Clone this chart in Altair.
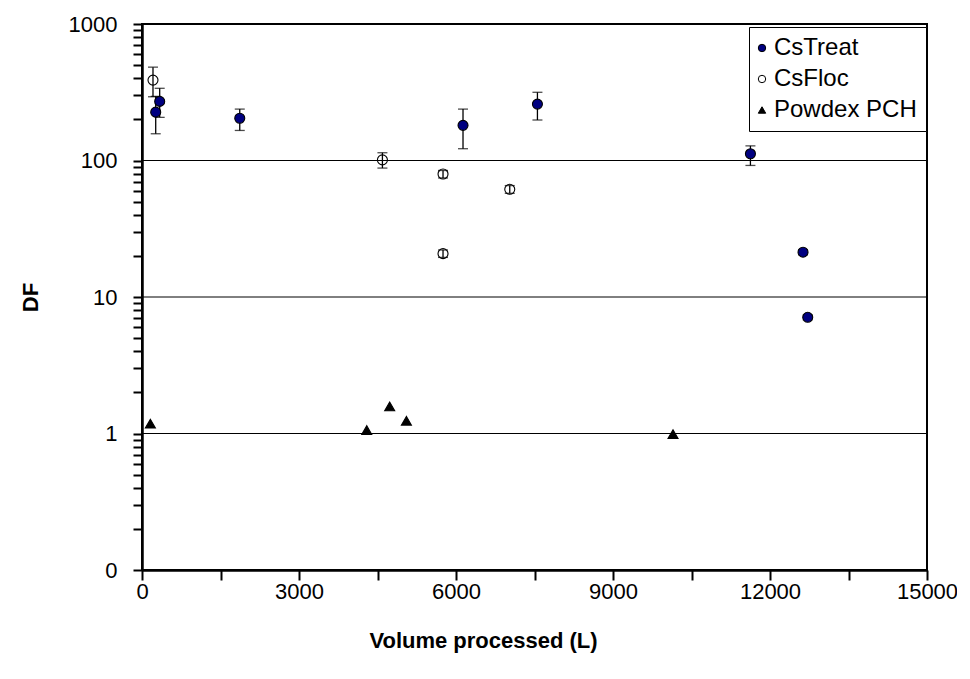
import altair as alt
import pandas as pd

# ---- data ----
treat_vol = [262, 338, 1868, 6134, 7556, 11626, 12631, 12721]
treat_df = [226, 271, 204, 181, 259, 112, 21.3, 7.1]
treat_lo = [157, 207, 166, 122, 198, 92, 20.4, 6.8]
treat_hi = [295, 338, 238, 238, 316, 128, 22.2, 7.4]

floc_vol = [210, 4594, 5752, 5752, 7027]
floc_df = [388, 101, 79.6, 20.8, 61.5]
floc_lo = [293, 88, 74.5, 19.5, 57.5]
floc_hi = [483, 114, 84.5, 22.1, 65.5]

pch_vol = [160, 4294, 4733, 5052, 10147]
pch_df = [1.18, 1.06, 1.58, 1.24, 0.99]

series_names = ["CsTreat", "CsFloc", "Powdex PCH"]
series_fill = ["#000080", "transparent", "#000000"]
series_shape = ["circle", "circle", "triangle-up"]

x_ticks = list(range(0, 15001, 1500))
y_major = [0.1, 1, 10, 100, 1000]
y_minor = [d * k for d in [0.1, 1, 10, 100] for k in range(2, 10)]
y_grid = [1, 10, 100]

# ---- tables ----
pts = pd.concat(
    [
        pd.DataFrame({"series": ["CsTreat"] * len(treat_vol), "vol": treat_vol, "df": treat_df}),
        pd.DataFrame({"series": ["CsFloc"] * len(floc_vol), "vol": floc_vol, "df": floc_df}),
        pd.DataFrame({"series": ["Powdex PCH"] * len(pch_vol), "vol": pch_vol, "df": pch_df}),
    ],
    ignore_index=True,
)
err = pd.concat(
    [
        pd.DataFrame({"series": "CsTreat", "vol": treat_vol, "lo": treat_lo, "hi": treat_hi}),
        pd.DataFrame({"series": "CsFloc", "vol": floc_vol, "lo": floc_lo, "hi": floc_hi}),
    ],
    ignore_index=True,
)
grid_df = pd.DataFrame({"g": y_grid})

FONT = "Liberation Sans"

xscale = alt.Scale(domain=[0, 15000], nice=False, zero=False)
yscale = alt.Scale(type="log", domain=[0.1, 1000], nice=False)

xaxis = alt.Axis(
    values=x_ticks,
    labelExpr="datum.value % 3000 == 0 ? '' + datum.value : ''",
    labelFlush=False,
    labelOverlap=False,
    labelFont=FONT,
    labelFontSize=22,
    labelColor="black",
    labelPadding=1,
    ticks=True,
    tickSize=10,
    tickWidth=2,
    tickColor="black",
    domainColor="black",
    domainWidth=2.5,
    grid=False,
    title="Volume processed (L)",
    titleFont=FONT,
    titleFontSize=22,
    titleFontWeight="bold",
    titleColor="black",
    titleX=341,
    titleY=70,
    titleAlign="center",
    titleBaseline="middle",
)

yaxis = alt.Axis(
    values=y_major + y_minor,
    labelExpr="datum.value == 0.1 ? '0' : ((datum.value == 1 || datum.value == 10 || datum.value == 100 || datum.value == 1000) ? format(datum.value, 'd') : '')",
    labelFlush=False,
    labelOverlap=False,
    labelFont=FONT,
    labelFontSize=22,
    labelColor="black",
    labelPadding=16,
    ticks=True,
    tickSize=9,
    tickWidth=2,
    tickColor="black",
    domainColor="black",
    domainWidth=2.5,
    grid=False,
    title="DF",
    titleFont=FONT,
    titleFontSize=22,
    titleFontWeight="bold",
    titleColor="black",
    titleX=-112,
    titleY=273,
    titleAngle=270,
    titleAlign="center",
    titleBaseline="middle",
)

gridlines = alt.Chart(grid_df).mark_rule(color="black", strokeWidth=1).encode(
    y=alt.Y("g:Q", scale=yscale, axis=yaxis),
)

rules = alt.Chart(err).mark_rule(color="black", strokeWidth=1.3).encode(
    x=alt.X("vol:Q", scale=xscale, axis=xaxis),
    y=alt.Y("lo:Q", scale=yscale, axis=yaxis),
    y2="hi:Q",
)

caps = (
    alt.Chart(err)
    .transform_fold(["lo", "hi"], as_=["which", "capv"])
    .mark_tick(orient="horizontal", size=10, thickness=1.3, color="black")
    .encode(
        x=alt.X("vol:Q", scale=xscale, axis=xaxis),
        y=alt.Y("capv:Q", scale=yscale, axis=yaxis),
    )
)

points = alt.Chart(pts).mark_point(filled=True, size=100, stroke="black", strokeWidth=1.1, opacity=1).encode(
    x=alt.X("vol:Q", scale=xscale, axis=xaxis),
    y=alt.Y("df:Q", scale=yscale, axis=yaxis),
    fill=alt.Fill(
        "series:N",
        scale=alt.Scale(domain=series_names, range=series_fill),
        legend=alt.Legend(
            title=None,
            orient="none",
            legendX=607,
            legendY=3,
            padding=9,
            rowPadding=7,
            symbolOffset=-8,
            labelOffset=0,
            labelFont=FONT,
            labelFontSize=24,
            labelColor="black",
            symbolSize=55,
            symbolStrokeColor="black",
            symbolStrokeWidth=1,
            strokeColor="black",
            fillColor="white",
            labelLimit=300,
        ),
    ),
    shape=alt.Shape(
        "series:N",
        scale=alt.Scale(domain=series_names, range=series_shape),
        legend=alt.Legend(title=None, orient="none", legendX=607, legendY=3),
    ),
)

chart = (
    alt.layer(gridlines, rules, caps, points)
    .properties(
        width=785,
        height=546,
        autosize=alt.AutoSizeParams(type="none"),
        padding={"left": 134, "top": 16, "right": 30, "bottom": 95},
        background="white",
    )
    .configure_view(stroke="black", strokeWidth=2)
)

chart.save("out.html", embed_options={"renderer": "svg", "actions": False})
